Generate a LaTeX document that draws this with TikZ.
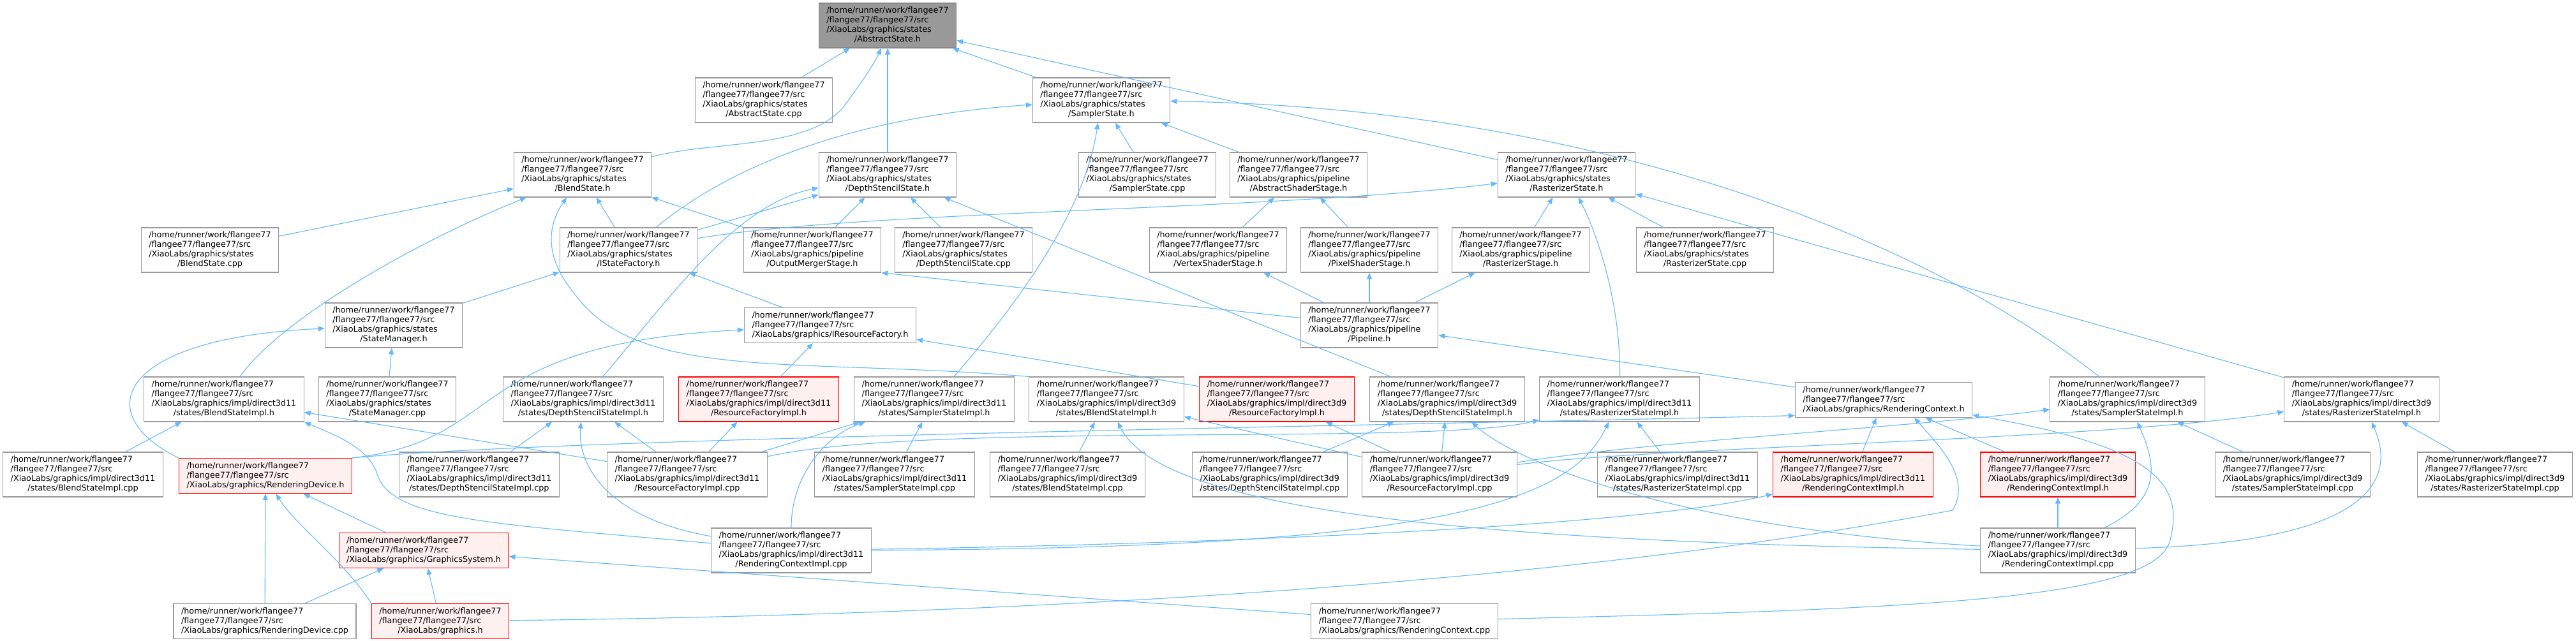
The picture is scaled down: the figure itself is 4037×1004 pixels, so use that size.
\documentclass[tikz,border=0pt]{standalone}
\usepackage{fontspec}
\setmainfont{DejaVu Sans}
\usepackage{xcolor}
\usetikzlibrary{arrows.meta}

\definecolor{linkblue}{HTML}{63B8FF}
\definecolor{boxline}{HTML}{999999}
\definecolor{rootfill}{HTML}{999999}
\definecolor{rootline}{HTML}{888888}
\definecolor{truncfill}{HTML}{FFF0F0}

\newcommand{\pth}[2]{\begin{tabular}{@{}l@{}}/home/runner/work/flangee77\\/flangee77/flangee77/src\\#1\\\multicolumn{1}{@{}c@{}}{#2}\end{tabular}}
\newcommand{\pths}[1]{\begin{tabular}{@{}l@{}}/home/runner/work/flangee77\\/flangee77/flangee77/src\\\multicolumn{1}{@{}c@{}}{#1}\end{tabular}}

\begin{document}
\begin{tikzpicture}[x=1pt, y=-1pt,
    file/.style={draw=boxline, fill=white, line width=1.1pt, inner xsep=12pt, inner ysep=5pt,
        font=\fontsize{12.8}{15}\selectfont},
    root/.style={file, draw=rootline, fill=rootfill},
    trunc/.style={file, draw=red, fill=truncfill},
    link/.style={color=linkblue, line width=1.1pt, -{Triangle[length=10pt,width=8pt]}}]
    \useasboundingbox (0,0) rectangle (4037,1004);

        \node[root] (abs) at (1391,40) {\pth{/XiaoLabs/graphics/states}{/AbstractState.h}};
        \node[file] (abscpp) at (1197,157) {\pth{/XiaoLabs/graphics/states}{/AbstractState.cpp}};
        \node[file] (smp) at (1726,157) {\pth{/XiaoLabs/graphics/states}{/SamplerState.h}};

        \node[file] (bld) at (913,274) {\pth{/XiaoLabs/graphics/states}{/BlendState.h}};
        \node[file] (dss) at (1391,274) {\pth{/XiaoLabs/graphics/states}{/DepthStencilState.h}};
        \node[file] (smpcpp) at (1798,274) {\pth{/XiaoLabs/graphics/states}{/SamplerState.cpp}};
        \node[file] (shd) at (2035,274) {\pth{/XiaoLabs/graphics/pipeline}{/AbstractShaderStage.h}};
        \node[file] (ras) at (2455,274) {\pth{/XiaoLabs/graphics/states}{/RasterizerState.h}};

        \node[file] (bldcpp) at (329,392) {\pth{/XiaoLabs/graphics/states}{/BlendState.cpp}};
        \node[file] (fac) at (985,392) {\pth{/XiaoLabs/graphics/states}{/IStateFactory.h}};
        \node[file] (oms) at (1273,392) {\pth{/XiaoLabs/graphics/pipeline}{/OutputMergerStage.h}};
        \node[file] (dsscpp) at (1510,392) {\pth{/XiaoLabs/graphics/states}{/DepthStencilState.cpp}};
        \node[file] (vss) at (1909,392) {\pth{/XiaoLabs/graphics/pipeline}{/VertexShaderStage.h}};
        \node[file] (pss) at (2146,392) {\pth{/XiaoLabs/graphics/pipeline}{/PixelShaderStage.h}};
        \node[file] (rss) at (2383,392) {\pth{/XiaoLabs/graphics/pipeline}{/RasterizerStage.h}};
        \node[file] (rascpp) at (2672,392) {\pth{/XiaoLabs/graphics/states}{/RasterizerState.cpp}};

        \node[file] (mgr) at (617,510) {\pth{/XiaoLabs/graphics/states}{/StateManager.h}};
        \node[file] (rfac) at (1301,510) {\pths{/XiaoLabs/graphics/IResourceFactory.h}};
        \node[file] (pipe) at (2146,510) {\pth{/XiaoLabs/graphics/pipeline}{/Pipeline.h}};

        \node[file] (d11bld) at (351,626) {\pth{/XiaoLabs/graphics/impl/direct3d11}{/states/BlendStateImpl.h}};
        \node[file] (mgrcpp) at (607,626) {\pth{/XiaoLabs/graphics/states}{/StateManager.cpp}};
        \node[file] (d11dss) at (914,626) {\pth{/XiaoLabs/graphics/impl/direct3d11}{/states/DepthStencilStateImpl.h}};
        \node[trunc] (d11rfac) at (1189,626) {\pth{/XiaoLabs/graphics/impl/direct3d11}{/ResourceFactoryImpl.h}};
        \node[file] (d11smp) at (1464,626) {\pth{/XiaoLabs/graphics/impl/direct3d11}{/states/SamplerStateImpl.h}};
        \node[file] (d9bld) at (1734,626) {\pth{/XiaoLabs/graphics/impl/direct3d9}{/states/BlendStateImpl.h}};
        \node[trunc] (d9rfac) at (2001,626) {\pth{/XiaoLabs/graphics/impl/direct3d9}{/ResourceFactoryImpl.h}};
        \node[file] (d9dss) at (2268,626) {\pth{/XiaoLabs/graphics/impl/direct3d9}{/states/DepthStencilStateImpl.h}};
        \node[file] (d11ras) at (2538,626) {\pth{/XiaoLabs/graphics/impl/direct3d11}{/states/RasterizerStateImpl.h}};
        \node[file] (rctx) at (2952,627) {\pths{/XiaoLabs/graphics/RenderingContext.h}};
        \node[file] (d9smp) at (3334,626) {\pth{/XiaoLabs/graphics/impl/direct3d9}{/states/SamplerStateImpl.h}};
        \node[file] (d9ras) at (3701,626) {\pth{/XiaoLabs/graphics/impl/direct3d9}{/states/RasterizerStateImpl.h}};

        \node[file] (d11bldcpp) at (130,744) {\pth{/XiaoLabs/graphics/impl/direct3d11}{/states/BlendStateImpl.cpp}};
        \node[trunc] (dev) at (416,746) {\pths{/XiaoLabs/graphics/RenderingDevice.h}};
        \node[file] (d11dsscpp) at (751,744) {\pth{/XiaoLabs/graphics/impl/direct3d11}{/states/DepthStencilStateImpl.cpp}};
        \node[file] (d11rfaccpp) at (1077,744) {\pth{/XiaoLabs/graphics/impl/direct3d11}{/ResourceFactoryImpl.cpp}};
        \node[file] (d11smpcpp) at (1402,744) {\pth{/XiaoLabs/graphics/impl/direct3d11}{/states/SamplerStateImpl.cpp}};
        \node[file] (d9bldcpp) at (1673,744) {\pth{/XiaoLabs/graphics/impl/direct3d9}{/states/BlendStateImpl.cpp}};
        \node[file] (d9dsscpp) at (1990,744) {\pth{/XiaoLabs/graphics/impl/direct3d9}{/states/DepthStencilStateImpl.cpp}};
        \node[file] (d9rfaccpp) at (2256,744) {\pth{/XiaoLabs/graphics/impl/direct3d9}{/ResourceFactoryImpl.cpp}};
        \node[file] (d11rascpp) at (2629,744) {\pth{/XiaoLabs/graphics/impl/direct3d11}{/states/RasterizerStateImpl.cpp}};
        \node[trunc] (d11ctx) at (2904,744) {\pth{/XiaoLabs/graphics/impl/direct3d11}{/RenderingContextImpl.h}};
        \node[trunc] (d9ctx) at (3225,744) {\pth{/XiaoLabs/graphics/impl/direct3d9}{/RenderingContextImpl.h}};
        \node[file] (d9smpcpp) at (3593,744) {\pth{/XiaoLabs/graphics/impl/direct3d9}{/states/SamplerStateImpl.cpp}};
        \node[file] (d9rascpp) at (3910,744) {\pth{/XiaoLabs/graphics/impl/direct3d9}{/states/RasterizerStateImpl.cpp}};

        \node[trunc] (gsys) at (664,863) {\pths{/XiaoLabs/graphics/GraphicsSystem.h}};
        \node[file] (d11ctxcpp) at (1240,863) {\pth{/XiaoLabs/graphics/impl/direct3d11}{/RenderingContextImpl.cpp}};
        \node[file] (d9ctxcpp) at (3225,863) {\pth{/XiaoLabs/graphics/impl/direct3d9}{/RenderingContextImpl.cpp}};

        \node[file] (devcpp) at (415,974) {\pths{/XiaoLabs/graphics/RenderingDevice.cpp}};
        \node[trunc] (gfx) at (690,974) {\pths{/XiaoLabs/graphics.h}};
        \node[file] (rctxcpp) at (2201,974) {\pths{/XiaoLabs/graphics/RenderingContext.cpp}};


        \path[link]
        (abscpp) edge (abs)
        (dss) edge (abs)
        (smp) edge (abs)
        (ras) edge (abs)
        (smpcpp) edge (smp)
        (shd) edge (smp)
        (bldcpp) edge (bld)
        (fac) edge (bld)
        (oms) edge (bld)
        (fac) edge (dss)
        (oms) edge (dss)
        (dsscpp) edge (dss)
        (d9dss) edge (dss)
        (rss) edge (ras)
        (rascpp) edge (ras)
        (d9ras) edge (ras)
        (vss) edge (shd)
        (pss) edge (shd)
        (pipe) edge (vss)
        (pipe) edge (pss)
        (pipe) edge (rss)
        (pipe) edge (oms.south east)
        (mgr) edge (fac)
        (rfac) edge (fac)
        (mgrcpp) edge (mgr)
        (d11rfac) edge (rfac)
        (d9rfac) edge (rfac)
        (rctx) edge (pipe)
        (d11bldcpp) edge (d11bld)
        (d11rfaccpp) edge (d11bld)
        (d11dsscpp) edge (d11dss)
        (d11rfaccpp) edge (d11dss)
        (d11rfaccpp) edge (d11rfac)
        (d11rfaccpp) edge (d11smp)
        (d11smpcpp) edge (d11smp)
        (d9bldcpp) edge (d9bld)
        (d9rfaccpp) edge (d9bld)
        (d9rfaccpp) edge (d9rfac)
        (d9rfaccpp) edge (d9dss)
        (d9dsscpp) edge (d9dss)
        (d11rascpp) edge (d11ras)
        (d9smpcpp) edge (d9smp)
        (d9rascpp) edge (d9ras)
        (d9ctxcpp) edge (d9ctx)
        (d11ctx) edge (rctx)
        (d9ctx) edge (rctx)
        (devcpp) edge (dev)
        (gsys) edge (dev)
        (devcpp) edge (gsys)
        (gfx) edge (gsys)
        (rctxcpp) edge (gsys);

        \draw[link] (bld) .. controls (1120,220) and (1260,235) .. (1320,170) .. controls (1350,130) and (1370,100) .. ([xshift=-10pt]abs.south);
        \draw[link] (fac) .. controls (1200,215) and (1450,175) .. (smp);
        \draw[link] (d11smp) .. controls (1600,470) and (1700,330) .. (smp);
        \draw[link] (d9smp) .. controls (3050,400) and (2550,170) .. (smp);
        \draw[link] (d11bld) .. controls (440,500) and (650,380) .. (bld);
        \draw[link] (d9bld.north west) .. controls (1250,560) and (1000,600) .. (900,460) .. controls (850,400) and (860,350) .. (bld);
        \draw[link] (d11dss) .. controls (1040,480) and (1150,320) .. (dss);
        \draw[link] (fac) .. controls (1350,330) and (2000,330) .. (ras);
        \draw[link] (d11ras) .. controls (2540,470) and (2500,360) .. (ras);
        \draw[link] (dev.north west) .. controls (140,650) and (180,530) .. (mgr);
        \draw[link] (dev.north east) .. controls (800,690) and (720,540) .. (rfac);
        \draw[link] (dev.north east) .. controls (900,685) and (2300,665) .. (rctx.190);
        \draw[link] (d11ctxcpp) .. controls (760,820) and (610,815) .. (590,740) .. controls (575,700) and (520,680) .. (d11bld.south east);
        \draw[link] (d11ctxcpp) .. controls (940,810) and (905,720) .. (d11dss);
        \draw[link] (d11ctxcpp) .. controls (1240,740) and (1300,680) .. (d11smp);
        \draw[link] (d11rfaccpp) .. controls (1450,660) and (2250,700) .. (d11ras);
        \draw[link] (d11ctxcpp) .. controls (2250,860) and (2460,790) .. (d11ras);
        \draw[link] (d11ctxcpp) .. controls (1800,855) and (2550,830) .. (d11ctx);
        \draw[link] (d9ctxcpp) .. controls (2300,850) and (1820,800) .. (d9bld);
        \draw[link] (d9ctxcpp) .. controls (2650,830) and (2380,730) .. (d9dss);
        \draw[link] (d9rfaccpp) .. controls (2600,690) and (3000,670) .. (d9smp);
        \draw[link] (d9rfaccpp) .. controls (2600,700) and (3300,690) .. (d9ras);
        \draw[link] (d9ctxcpp) .. controls (3395,780) and (3375,720) .. (d9smp);
        \draw[link] (d9ctxcpp) .. controls (3700,850) and (3760,760) .. (d9ras);
        \draw[link] (rctxcpp) .. controls (3010,955) and (3370,940) .. (3400,850) .. controls (3425,760) and (3380,700) .. (rctx);
        \draw[link] (gfx) .. controls (1500,965) and (2400,925) .. (3060,800) .. controls (3090,750) and (3040,700) .. ([xshift=48pt]rctx.south);
        \draw[link] (gfx.north west) .. controls (540,880) and (460,820) .. (dev);

    \end{tikzpicture}
\end{document}
